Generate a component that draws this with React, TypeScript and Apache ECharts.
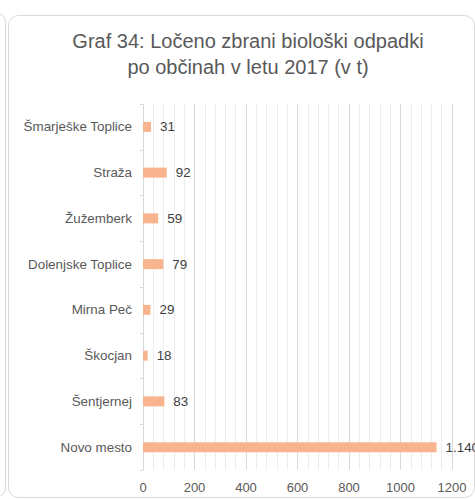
import React, { useEffect, useRef } from "react";
import * as echarts from "echarts";

const titleLines = ["Graf 34: Ločeno zbrani biološki odpadki", "po občinah v letu 2017 (v t)"];
const categories = [
  "Šmarješke Toplice",
  "Straža",
  "Žužemberk",
  "Dolenjske Toplice",
  "Mirna Peč",
  "Škocjan",
  "Šentjernej",
  "Novo mesto",
];
const values = [31, 92, 59, 79, 29, 18, 83, 1140];
const xMin = 0;
const xMax = 1200;
const xInterval = 200;

const FONT = "'Liberation Sans', Arial, sans-serif";

function fmt(v: number): string {
  if (v >= 1000) {
    const th = Math.floor(v / 1000);
    const rest = String(v % 1000).padStart(3, "0");
    return th + "." + rest;
  }
  return String(v);
}

export default function App() {
  const ref = useRef<HTMLDivElement>(null);
  useEffect(() => {
    if (!ref.current) return;
    const chart = echarts.init(ref.current, undefined, { renderer: "svg" });
    chart.setOption({
      animation: false,
      backgroundColor: "#ffffff",
      title: {
        text: titleLines.join("\n"),
        left: 243,
        top: 23,
        textAlign: "center",
        textStyle: {
          fontFamily: FONT,
          fontSize: 20,
          fontWeight: "normal",
          color: "#595959",
          lineHeight: 26,
        },
      },
      graphic: [
        {
          type: "rect",
          silent: true,
          z: -10,
          shape: { x: -100.5, y: 12.5, width: 106, height: 485, r: 10 },
          style: { fill: "none", stroke: "#d9d9d9", lineWidth: 1 },
        },
        {
          type: "rect",
          silent: true,
          z: -10,
          shape: { x: 8.5, y: 15.5, width: 466, height: 482, r: 10 },
          style: { fill: "none", stroke: "#d9d9d9", lineWidth: 1 },
        },
      ],
      grid: { left: 143, top: 104, right: 23, bottom: 29, containLabel: false },
      xAxis: {
        type: "value",
        min: xMin,
        max: xMax,
        interval: xInterval,
        axisLine: { show: false },
        axisTick: { show: false },
        axisLabel: {
          color: "#595959",
          fontFamily: FONT,
          fontSize: 13,
          margin: 11,
          formatter: (v: number) => String(v),
        },
        splitLine: { show: true, lineStyle: { color: "#d9d9d9", width: 1 } },
        minorTick: { show: false, splitNumber: 5 },
        minorSplitLine: { show: true, lineStyle: { color: "#ededed", width: 1 } },
      },
      yAxis: {
        type: "category",
        data: categories,
        inverse: true,
        axisLine: { show: true, lineStyle: { color: "#d9d9d9" } },
        axisTick: { show: true, length: 3, lineStyle: { color: "#d9d9d9" } },
        axisLabel: {
          color: "#595959",
          fontFamily: FONT,
          fontSize: 13.4,
          margin: 11,
        },
        splitLine: { show: false },
      },
      series: [
        {
          type: "bar",
          data: values,
          barWidth: 10,
          itemStyle: { color: "#F8B48E" },
          label: {
            show: true,
            position: "right",
            distance: 9,
            color: "#404040",
            fontFamily: FONT,
            fontSize: 13.4,
            formatter: (p: any) => fmt(p.value),
          },
        },
      ],
    });
    return () => chart.dispose();
  }, []);
  return (
    <div
      ref={ref}
      style={{ position: "absolute", left: 0, top: 0, width: 475, height: 499 }}
    />
  );
}
